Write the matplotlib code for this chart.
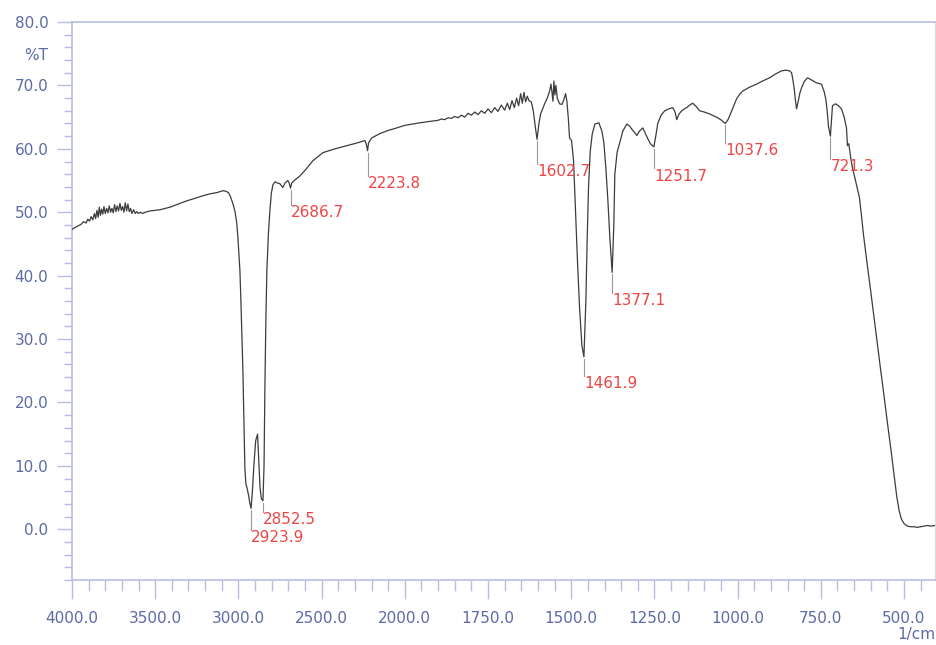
import numpy as np
import matplotlib
matplotlib.use("Agg")
import matplotlib.pyplot as plt
from matplotlib.ticker import FixedLocator, FormatStrFormatter

# ---- spectrum: wavenumber (1/cm) and transmittance (%T) ----
wavenumber = [
    4000, 3980, 3960, 3945, 3930, 3915, 3905, 3895, 3885, 3875, 3865, 3858,
    3850, 3843, 3836, 3829, 3822, 3815, 3808, 3800, 3792, 3784, 3776, 3768,
    3760, 3752, 3744, 3736, 3728, 3720, 3712, 3704, 3696, 3688, 3680, 3672,
    3664, 3656, 3648, 3640, 3630, 3620, 3610, 3600, 3590, 3575, 3560, 3532,
    3470, 3411, 3360, 3310, 3260, 3213, 3170, 3129, 3093, 3075, 3060, 3050,
    3035, 3021, 3010, 3003, 2997, 2991, 2985, 2979, 2973, 2967, 2961, 2955,
    2949, 2940, 2931, 2923.9, 2916, 2906, 2896, 2885, 2878, 2870, 2862,
    2852.5, 2846, 2841, 2835, 2829, 2820, 2811, 2802, 2793, 2780, 2765, 2751,
    2742, 2733, 2720, 2703, 2695, 2686.7, 2680, 2665, 2645, 2631, 2600, 2553,
    2492, 2420, 2348, 2290, 2240, 2232, 2223.8, 2218, 2200, 2150, 2100, 2048,
    2000, 1955, 1900, 1890, 1880, 1870, 1860, 1850, 1840, 1830, 1820, 1810,
    1800, 1790, 1780, 1770, 1760, 1750, 1740, 1730, 1720, 1710, 1700, 1692,
    1685, 1678, 1671, 1664, 1658, 1652, 1647, 1642, 1637, 1632, 1627, 1620,
    1614, 1608, 1602.7, 1597, 1592, 1586, 1580, 1572, 1565, 1561, 1558, 1555,
    1552, 1549, 1546, 1542, 1535, 1528, 1523, 1517, 1513, 1509, 1505, 1499,
    1493, 1487, 1481, 1475, 1468, 1461.9, 1456, 1452, 1448, 1443, 1437, 1429,
    1417, 1408, 1402, 1396, 1390, 1384, 1377.1, 1372, 1369, 1362, 1354, 1345,
    1333, 1325, 1318, 1310, 1303, 1295, 1285, 1278, 1270, 1262, 1251.7, 1246,
    1240, 1230, 1219, 1207, 1195, 1188, 1183, 1176, 1168, 1160, 1153, 1144,
    1135, 1125, 1114, 1100, 1084, 1072, 1060, 1048, 1037.6, 1030, 1024, 1014,
    1003, 994, 985, 965, 943, 925, 904, 886, 868, 855, 844, 838, 835, 830,
    826, 823, 818, 813, 808, 800, 790, 776, 763, 748, 740, 735, 731, 727,
    721.3, 718, 715, 706, 697, 688, 680, 673, 670, 666, 660, 655, 645, 634,
    628, 622, 610, 600, 590, 580, 570, 560, 550, 540, 530, 522, 515, 508,
    500, 490, 480, 470, 460, 450, 440, 430, 420, 405,
]
transmittance = [
    47.3, 47.6, 47.9, 48.1, 48.5, 48.3, 48.9, 48.6, 49.3, 48.8, 49.8, 49.0,
    50.3, 49.2, 50.8, 49.5, 50.5, 49.7, 50.9, 49.8, 50.6, 49.9, 51.0, 50.0,
    50.6, 49.9, 51.2, 50.1, 51.0, 50.2, 51.4, 50.3, 50.9, 50.0, 51.5, 50.2,
    51.3, 50.1, 50.6, 49.8, 50.4, 49.8, 50.1, 49.8, 50.0, 49.8, 50.0, 50.2,
    50.4, 50.8, 51.3, 51.8, 52.2, 52.6, 52.9, 53.1, 53.4, 53.3, 53.1, 52.6,
    51.5, 50.2, 48.3, 46.0, 43.5, 40.8, 36.0, 30.2, 25.0, 17.5, 9.5, 7.2,
    6.6, 5.5, 4.1, 3.3, 6.0, 10.5, 14.0, 15.0, 11.0, 6.5, 4.8,
    4.5, 10.0, 22.0, 33.0, 40.8, 46.5, 50.2, 53.0, 54.3, 54.8, 54.6, 54.5,
    54.2, 53.9, 54.6, 55.0, 54.6, 53.8, 54.6, 55.0, 55.4, 55.7, 56.6, 58.1,
    59.4, 60.0, 60.5, 60.9, 61.3, 60.8, 59.7, 60.9, 61.7, 62.4, 62.9, 63.3,
    63.7, 64.1, 64.5, 64.7, 64.6, 64.9, 64.8, 65.1, 64.9, 65.3, 65.0, 65.6,
    65.3, 65.8, 65.4, 66.0, 65.6, 66.3, 65.7, 66.5, 65.9, 66.9, 66.1, 67.2,
    66.2, 67.6, 66.5, 68.0, 66.8, 68.7, 67.2, 68.9, 67.4, 68.3, 67.6, 67.4,
    66.0, 63.5, 61.5, 64.0, 65.5, 66.3, 67.1, 68.0, 69.1, 70.2, 69.0, 67.5,
    70.7, 68.5, 70.0, 68.0, 67.1, 67.0, 67.6, 68.7, 67.5, 65.0, 61.7, 61.3,
    58.1, 50.0, 42.0, 35.0, 29.0, 27.2, 36.0, 46.0, 54.0, 59.5, 62.3, 63.9,
    64.1, 62.8, 61.0, 57.0, 52.0, 46.0, 40.5, 48.0, 56.0, 59.5, 61.0, 62.8,
    63.9, 63.6, 63.1, 62.6, 62.1, 62.8, 63.3, 62.5, 61.6, 60.8, 60.3, 62.0,
    64.0, 65.3, 66.0, 66.3, 66.5, 65.8, 64.6, 65.5, 66.0, 66.3, 66.5, 66.9,
    67.2, 66.7, 66.0, 65.8, 65.5, 65.2, 64.9, 64.5, 64.0, 64.5, 65.2, 66.5,
    67.9, 68.6, 69.1, 69.7, 70.2, 70.7, 71.2, 71.8, 72.3, 72.4, 72.3, 72.0,
    71.2, 69.5, 67.5, 66.3, 67.5, 68.8, 69.6, 70.6, 71.2, 70.8, 70.4, 70.2,
    69.0, 67.8, 66.0, 63.5, 62.0, 64.5, 66.8, 67.1, 66.8, 66.3, 65.0, 63.3,
    60.5, 60.8, 58.5, 57.0, 54.8, 52.3, 49.5, 46.5, 41.5, 37.5, 33.3, 29.2,
    25.0, 21.0, 16.8, 12.8, 8.6, 5.2, 3.0, 1.6, 0.9, 0.5, 0.4, 0.4, 0.3,
    0.4, 0.5, 0.6, 0.5, 0.6,
]

# ---- labelled peaks ----
peak_wavenumber = [2923.9, 2852.5, 2686.7, 2223.8, 1602.7, 1461.9, 1377.1,
                   1251.7, 1037.6, 721.3]
peak_labels = ["2923.9", "2852.5", "2686.7", "2223.8", "1602.7", "1461.9",
               "1377.1", "1251.7", "1037.6", "721.3"]
peak_value = [3.3, 4.5, 53.8, 59.7, 61.5, 27.2, 40.5, 60.3, 64.0, 62.0]
label_level = [-1.3, 1.6, 49.9, 54.5, 56.4, 23.0, 36.1, 55.7, 59.7, 57.2]

x_major = [4000, 3500, 3000, 2500, 2000, 1750, 1500, 1250, 1000, 750, 500]
y_major = [0, 10, 20, 30, 40, 50, 60, 70, 80]

AXIS_BLUE = "#5c6aa6"
SPINE = "#b9bce2"
RED = "#ee4444"


def fwd(w):
    w = np.asarray(w, dtype=float)
    return np.where(w > 2000, 2000 + (w - 2000) / 2.0, w)


def inv(u):
    u = np.asarray(u, dtype=float)
    return np.where(u > 2000, 2000 + (u - 2000) * 2.0, u)


fig = plt.figure(figsize=(9.37, 6.45), dpi=100)
ax = fig.add_axes([72 / 937, 1 - 580 / 645, (935 - 72) / 937, (580 - 22) / 645])
ax.set_xscale("function", functions=(fwd, inv))
ax.set_xlim(4000, 407)
ax.set_ylim(-8, 80)

ax.plot(wavenumber, transmittance, color="#3c3c3c", lw=0.9, zorder=3)

for w, t, lvl, txt in zip(peak_wavenumber, peak_value, label_level, peak_labels):
    ax.plot([w, w], [t - 0.3, lvl + 1.2], color="#9a9a9a", lw=0.8, zorder=2)
    ax.annotate(txt, (w, lvl), xytext=(0, 0), textcoords="offset points",
                ha="left", va="center", color=RED, fontsize=11)

# ticks
minor_x = [w for w in range(4000, 2000, -100)] + [w for w in range(2000, 400, -50)]
ax.xaxis.set_major_locator(FixedLocator(x_major))
ax.xaxis.set_minor_locator(FixedLocator(minor_x))
ax.yaxis.set_major_locator(FixedLocator(y_major))
ax.yaxis.set_minor_locator(FixedLocator(list(range(-8, 81, 2))))
ax.xaxis.set_major_formatter(FormatStrFormatter("%.1f"))
ax.yaxis.set_major_formatter(FormatStrFormatter("%.1f"))

ax.tick_params(axis="x", which="major", direction="out", length=14, width=1,
               color=SPINE, labelcolor=AXIS_BLUE, labelsize=11, pad=8)
ax.tick_params(axis="x", which="minor", direction="out", length=8, width=1,
               color=SPINE)
ax.tick_params(axis="y", which="major", direction="out", length=11, width=1,
               color=SPINE, labelcolor=AXIS_BLUE, labelsize=11, pad=6)
ax.tick_params(axis="y", which="minor", direction="out", length=6, width=1,
               color=SPINE)

for side in ("left", "bottom", "top"):
    ax.spines[side].set_color(SPINE)
    ax.spines[side].set_linewidth(1.2)
ax.spines["right"].set_color("#dcdcdc")
ax.spines["right"].set_linewidth(1.0)

fig.text(48 / 937, 1 - 55 / 645, "%T", ha="right", va="center",
         color=AXIS_BLUE, fontsize=11)
fig.text(935 / 937, 1 - 635 / 645, "1/cm", ha="right", va="center",
         color=AXIS_BLUE, fontsize=11)

fig.savefig("out.png", dpi=100, facecolor="white")
